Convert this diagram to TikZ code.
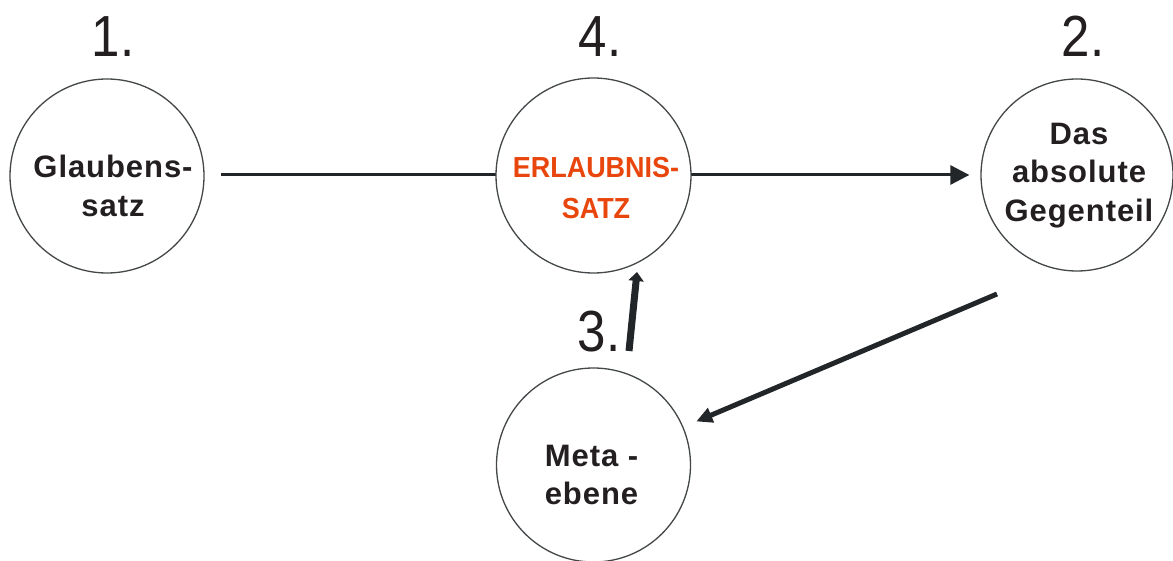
\documentclass[tikz,border=0pt]{standalone}
\usepackage{fontspec}
\setmainfont{Liberation Sans}
\usetikzlibrary{arrows.meta}
\pgfdeclarelayer{background}
\pgfsetlayers{background,main}
\definecolor{ink}{HTML}{222629}
\definecolor{txt}{HTML}{231F20}
\definecolor{redtxt}{HTML}{E8460C}
\tikzset{
  ring/.style={circle,draw=ink!85,line width=1.3pt,fill=white,minimum size=194pt,inner sep=0pt},
  boldlabel/.style={font=\bfseries\fontsize{31}{38.5}\selectfont\addfontfeature{LetterSpace=3},text=txt,align=center,inner sep=0pt},
  redlabel/.style={font=\bfseries\fontsize{29}{41}\selectfont,text=redtxt,align=center,inner sep=0pt},
  numlabel/.style={font=\fontsize{58}{60}\selectfont,text=txt,anchor=base,inner sep=0pt},
  conn/.style={draw=ink,line cap=butt}
}
\begin{document}
\begin{tikzpicture}[x=1pt,y=-1pt]
\useasboundingbox (0,0) rectangle (1173,561);
% circles
\node[ring] (glaub) at (107,176) {};
\node[ring,minimum size=195pt] (erl) at (593.5,175.5) {};
\node[ring,minimum size=192pt] (gegen) at (1077,175) {};
\node[ring] (meta) at (593.5,465) {};
% texts
\node[boldlabel] (tglaub) at (113,186) {Glaubens-\\satz};
\node[redlabel] (terl) at (596,188) {\scalebox{0.93}[1]{ERLAUBNIS-}\\\scalebox{0.93}[1]{SATZ}};
\node[boldlabel] (tgegen) at (1079,175.5) {Das\\absolute\\Gegenteil};
\node[boldlabel] (tmeta) at (591.5,475) {Meta -\\ebene};
% numbers
\node[numlabel] (n1) at (113,57) {\scalebox{0.88}[1]{1.}};
\node[numlabel] (n4) at (600,57) {\scalebox{0.88}[1]{4.}};
\node[numlabel] (n2) at (1083,57) {\scalebox{0.88}[1]{2.}};
\node[numlabel] (n3) at (599,352) {\scalebox{0.88}[1]{3.}};
% connectors
\coordinate (hstart) at (221,175);
\coordinate (vstart) at (629,351);
\coordinate (vend) at (637,272);
\coordinate (dstart) at (997,294);
\begin{pgfonlayer}{background}
\draw[conn,line width=3pt,-{Triangle[length=19pt,width=19pt]}] (hstart) -- ([xshift=-11pt]gegen.west);
\end{pgfonlayer}
\draw[conn,line width=7pt,-{Triangle[length=9pt,width=15pt]}] (vstart) -- (vend);
\draw[conn,line width=5pt,-{Triangle[length=16pt,width=15pt]},shorten >=14pt] (dstart) -- (meta);
\end{tikzpicture}
\end{document}
